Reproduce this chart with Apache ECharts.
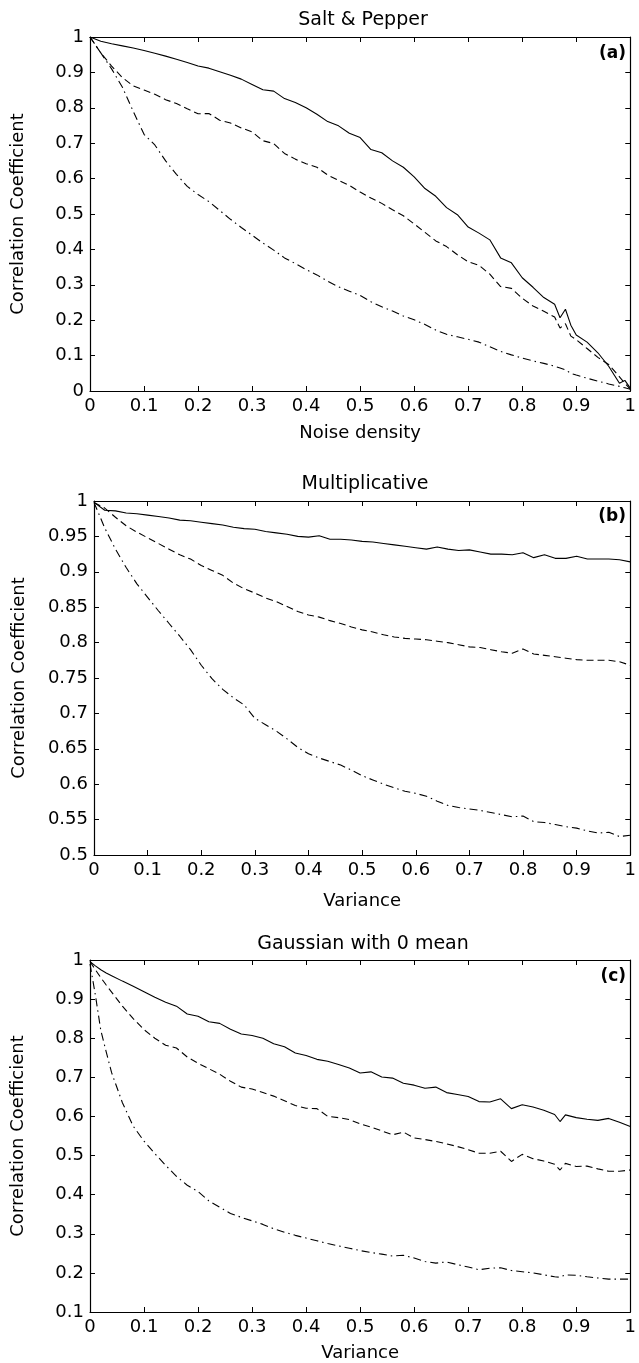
<!DOCTYPE html>
<html>
<head>
<meta charset="utf-8">
<script src="https://cdn.jsdelivr.net/npm/echarts@6/dist/echarts.min.js"></script>
<style>
  html, body { margin: 0; padding: 0; background: #fff; }
  #chart { width: 639px; height: 1363px; }
</style>
</head>
<body>
<div id="chart"></div>
<script>
// (a) Salt & Pepper
var xA = [0, 0.02, 0.04, 0.06, 0.08, 0.1, 0.12, 0.14, 0.16, 0.18, 0.2, 0.22, 0.24, 0.26, 0.28, 0.3, 0.32, 0.34, 0.36, 0.38,
  0.4, 0.42, 0.44, 0.46, 0.48, 0.5, 0.52, 0.54, 0.56, 0.58, 0.6, 0.62, 0.64, 0.66, 0.68, 0.7, 0.72, 0.74, 0.76, 0.78,
  0.8, 0.82, 0.84, 0.86, 0.87, 0.88, 0.89, 0.9, 0.92, 0.94, 0.96, 0.98, 0.99, 1];
var solidA = [1.0, 0.988, 0.981, 0.975, 0.969, 0.962, 0.954, 0.946, 0.937, 0.928, 0.918, 0.912, 0.902, 0.892, 0.881, 0.866, 0.851, 0.847, 0.826, 0.815,
  0.800, 0.782, 0.761, 0.749, 0.728, 0.716, 0.682, 0.673, 0.650, 0.632, 0.605, 0.572, 0.550, 0.518, 0.498, 0.463, 0.446, 0.427, 0.376, 0.362,
  0.320, 0.293, 0.264, 0.245, 0.207, 0.231, 0.186, 0.158, 0.138, 0.108, 0.070, 0.022, 0.030, 0.008];
var dashedA = [1.0, 0.955, 0.918, 0.885, 0.862, 0.850, 0.838, 0.823, 0.812, 0.797, 0.783, 0.784, 0.765, 0.757, 0.743, 0.732, 0.707, 0.699, 0.671, 0.655,
  0.642, 0.632, 0.610, 0.595, 0.581, 0.562, 0.545, 0.530, 0.512, 0.495, 0.472, 0.448, 0.424, 0.408, 0.385, 0.365, 0.355, 0.330, 0.295, 0.290,
  0.262, 0.240, 0.225, 0.209, 0.178, 0.190, 0.155, 0.145, 0.120, 0.095, 0.075, 0.040, 0.022, 0.005];
var dashdotA = [1.0, 0.955, 0.91, 0.858, 0.79, 0.725, 0.695, 0.650, 0.612, 0.578, 0.555, 0.535, 0.510, 0.485, 0.462, 0.440, 0.418, 0.398, 0.376, 0.360,
  0.343, 0.328, 0.310, 0.294, 0.282, 0.270, 0.252, 0.238, 0.226, 0.212, 0.201, 0.188, 0.172, 0.160, 0.153, 0.146, 0.138, 0.125, 0.112, 0.102,
  0.093, 0.085, 0.078, 0.070, 0.065, 0.060, 0.050, 0.045, 0.036, 0.028, 0.020, 0.013, 0.009, 0.005];

// (b) Multiplicative
var xB = [0, 0.02, 0.04, 0.06, 0.08, 0.1, 0.12, 0.14, 0.16, 0.18, 0.2, 0.22, 0.24, 0.26, 0.28, 0.3, 0.32, 0.34, 0.36, 0.38,
  0.4, 0.42, 0.44, 0.46, 0.48, 0.5, 0.52, 0.54, 0.56, 0.58, 0.6, 0.62, 0.64, 0.66, 0.68, 0.7, 0.72, 0.74, 0.76, 0.78,
  0.8, 0.82, 0.84, 0.86, 0.88, 0.9, 0.92, 0.94, 0.96, 0.98, 1];
var solidB = [0.998, 0.987, 0.986, 0.983, 0.982, 0.980, 0.978, 0.976, 0.973, 0.972, 0.970, 0.968, 0.966, 0.963, 0.961, 0.960, 0.957, 0.955, 0.953, 0.950,
  0.949, 0.951, 0.946, 0.946, 0.945, 0.943, 0.942, 0.940, 0.938, 0.936, 0.934, 0.932, 0.935, 0.932, 0.930, 0.931, 0.928, 0.925, 0.925, 0.924,
  0.927, 0.920, 0.924, 0.919, 0.919, 0.922, 0.918, 0.918, 0.918, 0.917, 0.914];
var dashedB = [0.998, 0.990, 0.977, 0.965, 0.956, 0.948, 0.940, 0.932, 0.924, 0.918, 0.909, 0.902, 0.895, 0.884, 0.876, 0.870, 0.863, 0.858, 0.851, 0.844,
  0.839, 0.836, 0.831, 0.827, 0.822, 0.818, 0.815, 0.811, 0.808, 0.806, 0.805, 0.804, 0.802, 0.800, 0.797, 0.794, 0.793, 0.790, 0.787, 0.785,
  0.791, 0.784, 0.782, 0.780, 0.778, 0.776, 0.775, 0.775, 0.775, 0.773, 0.768];
var dashdotB = [0.998, 0.962, 0.932, 0.906, 0.883, 0.864, 0.845, 0.827, 0.809, 0.790, 0.768, 0.749, 0.734, 0.722, 0.712, 0.693, 0.684, 0.675, 0.664, 0.652,
  0.643, 0.637, 0.632, 0.627, 0.620, 0.612, 0.606, 0.600, 0.595, 0.590, 0.587, 0.583, 0.576, 0.570, 0.567, 0.565, 0.563, 0.560, 0.557, 0.554,
  0.555, 0.547, 0.546, 0.543, 0.540, 0.538, 0.534, 0.531, 0.532, 0.526, 0.528];

// (c) Gaussian with 0 mean
var xC = [0, 0.01, 0.02, 0.03, 0.04, 0.06, 0.08, 0.1, 0.12, 0.14, 0.16, 0.18, 0.2, 0.22, 0.24, 0.26, 0.28, 0.3, 0.32, 0.34, 0.36, 0.38,
  0.4, 0.42, 0.44, 0.46, 0.48, 0.5, 0.52, 0.54, 0.56, 0.58, 0.6, 0.62, 0.64, 0.66, 0.68, 0.7, 0.72, 0.74, 0.76, 0.78,
  0.8, 0.82, 0.84, 0.86, 0.87, 0.88, 0.9, 0.92, 0.94, 0.96, 0.98, 1];
var solidC = [0.996, 0.985, 0.975, 0.967, 0.960, 0.946, 0.933, 0.919, 0.905, 0.892, 0.882, 0.862, 0.856, 0.842, 0.838, 0.823, 0.811, 0.807, 0.800, 0.786, 0.778, 0.762,
  0.756, 0.746, 0.741, 0.733, 0.724, 0.711, 0.714, 0.701, 0.698, 0.685, 0.680, 0.672, 0.675, 0.661, 0.656, 0.651, 0.638, 0.637, 0.645, 0.620,
  0.630, 0.624, 0.616, 0.605, 0.587, 0.604, 0.597, 0.593, 0.590, 0.595, 0.585, 0.574];
var dashedC = [0.996, 0.975, 0.955, 0.936, 0.918, 0.882, 0.850, 0.822, 0.800, 0.782, 0.775, 0.752, 0.736, 0.722, 0.708, 0.690, 0.675, 0.670, 0.661, 0.652, 0.640, 0.628,
  0.621, 0.620, 0.600, 0.597, 0.592, 0.581, 0.573, 0.563, 0.553, 0.560, 0.545, 0.541, 0.536, 0.530, 0.523, 0.515, 0.506, 0.506, 0.511, 0.485,
  0.503, 0.492, 0.486, 0.478, 0.463, 0.480, 0.472, 0.473, 0.466, 0.460, 0.460, 0.463];
var dashdotC = [0.99, 0.91, 0.82, 0.765, 0.712, 0.635, 0.575, 0.537, 0.505, 0.475, 0.447, 0.424, 0.408, 0.384, 0.368, 0.352, 0.342, 0.333, 0.324, 0.313, 0.304, 0.296,
  0.289, 0.282, 0.275, 0.269, 0.263, 0.257, 0.252, 0.248, 0.243, 0.245, 0.238, 0.229, 0.225, 0.228, 0.221, 0.215, 0.208, 0.212, 0.213, 0.206,
  0.203, 0.200, 0.195, 0.190, 0.189, 0.195, 0.194, 0.190, 0.187, 0.184, 0.184, 0.184];

var titles = ['Salt & Pepper', 'Multiplicative', 'Gaussian with 0 mean'];
var tags = ['(a)', '(b)', '(c)'];
var xNames = ['Noise density', 'Variance', 'Variance'];
var yName = 'Correlation Coefficient';

var FONT = 'DejaVu Sans';

// 布局
var panels = [
  { grid: { left: 90, top: 37, width: 546, height: 354 }, yMin: 0, yMax: 1, yStep: 0.1, xGap: 33, yGap: 63, titleTop: 11, tagTop: 45, x: xA, lines: [solidA, dashedA, dashdotA] },
  { grid: { left: 94, top: 501, width: 542, height: 354 }, yMin: 0.5, yMax: 1, yStep: 0.05, xGap: 37, yGap: 66, titleTop: 475, tagTop: 508, x: xB, lines: [solidB, dashedB, dashdotB] },
  { grid: { left: 90, top: 960, width: 546, height: 357 }, yMin: 0.1, yMax: 1, yStep: 0.1, xGap: 32, yGap: 63, titleTop: 935, tagTop: 968, x: xC, lines: [solidC, dashedC, dashdotC] }
];

var lineTypes = ['solid', [7, 4], [8, 4, 1.5, 4]];

var axisLine = { show: true, onZero: false, lineStyle: { color: '#000', width: 1.2 } };
var axisTick = { show: true, inside: true, length: 5, lineStyle: { color: '#000', width: 1 } };
var labelStyle = { color: '#000', fontFamily: FONT, fontSize: 18 };
var nameStyle = { color: '#000', fontFamily: FONT, fontSize: 18 };

var option = {
  animation: false,
  backgroundColor: '#fff',
  title: [],
  grid: [],
  xAxis: [],
  yAxis: [],
  series: []
};

panels.forEach((p, i) => {
  option.grid.push(p.grid);
  var cx = p.grid.left + p.grid.width / 2;
  option.title.push({
    text: titles[i], left: cx, top: p.titleTop, textAlign: 'center', padding: 0,
    textStyle: { fontFamily: FONT, fontSize: 19, fontWeight: 'normal', color: '#000' }
  });
  option.title.push({
    text: tags[i], left: p.grid.left + p.grid.width - 10, top: p.tagTop, textAlign: 'right', padding: 0,
    textStyle: { fontFamily: FONT, fontSize: 17, fontWeight: 'bold', color: '#000' }
  });

  // 下 / 上 x轴
  option.xAxis.push({
    type: 'value', gridIndex: i, min: 0, max: 1, interval: 0.1, position: 'bottom',
    name: xNames[i], nameLocation: 'middle', nameGap: p.xGap, nameTextStyle: nameStyle,
    axisLine, axisTick, splitLine: { show: false },
    axisLabel: Object.assign({ margin: 6 }, labelStyle)
  }, {
    type: 'value', gridIndex: i, min: 0, max: 1, interval: 0.1, position: 'top',
    axisLine, axisTick, splitLine: { show: false }, axisLabel: { show: false }
  });

  // 左 / 右 y轴
  option.yAxis.push({
    type: 'value', gridIndex: i, min: p.yMin, max: p.yMax, interval: p.yStep, position: 'left',
    name: yName, nameLocation: 'middle', nameGap: p.yGap, nameTextStyle: nameStyle,
    axisLine, axisTick, splitLine: { show: false },
    axisLabel: Object.assign({ margin: 6 }, labelStyle)
  }, {
    type: 'value', gridIndex: i, min: p.yMin, max: p.yMax, interval: p.yStep, position: 'right',
    axisLine, axisTick, splitLine: { show: false }, axisLabel: { show: false }
  });

  p.lines.forEach((ys, k) => {
    option.series.push({
      type: 'line',
      xAxisIndex: i * 2,
      yAxisIndex: i * 2,
      showSymbol: false,
      symbol: 'none',
      data: p.x.map((x, j) => [x, ys[j]]),
      lineStyle: { color: '#000', width: 1.1, type: lineTypes[k] }
    });
  });
});

var chart = echarts.init(document.getElementById('chart'), null, { renderer: 'canvas' });
chart.setOption(option);
</script>
</body>
</html>
